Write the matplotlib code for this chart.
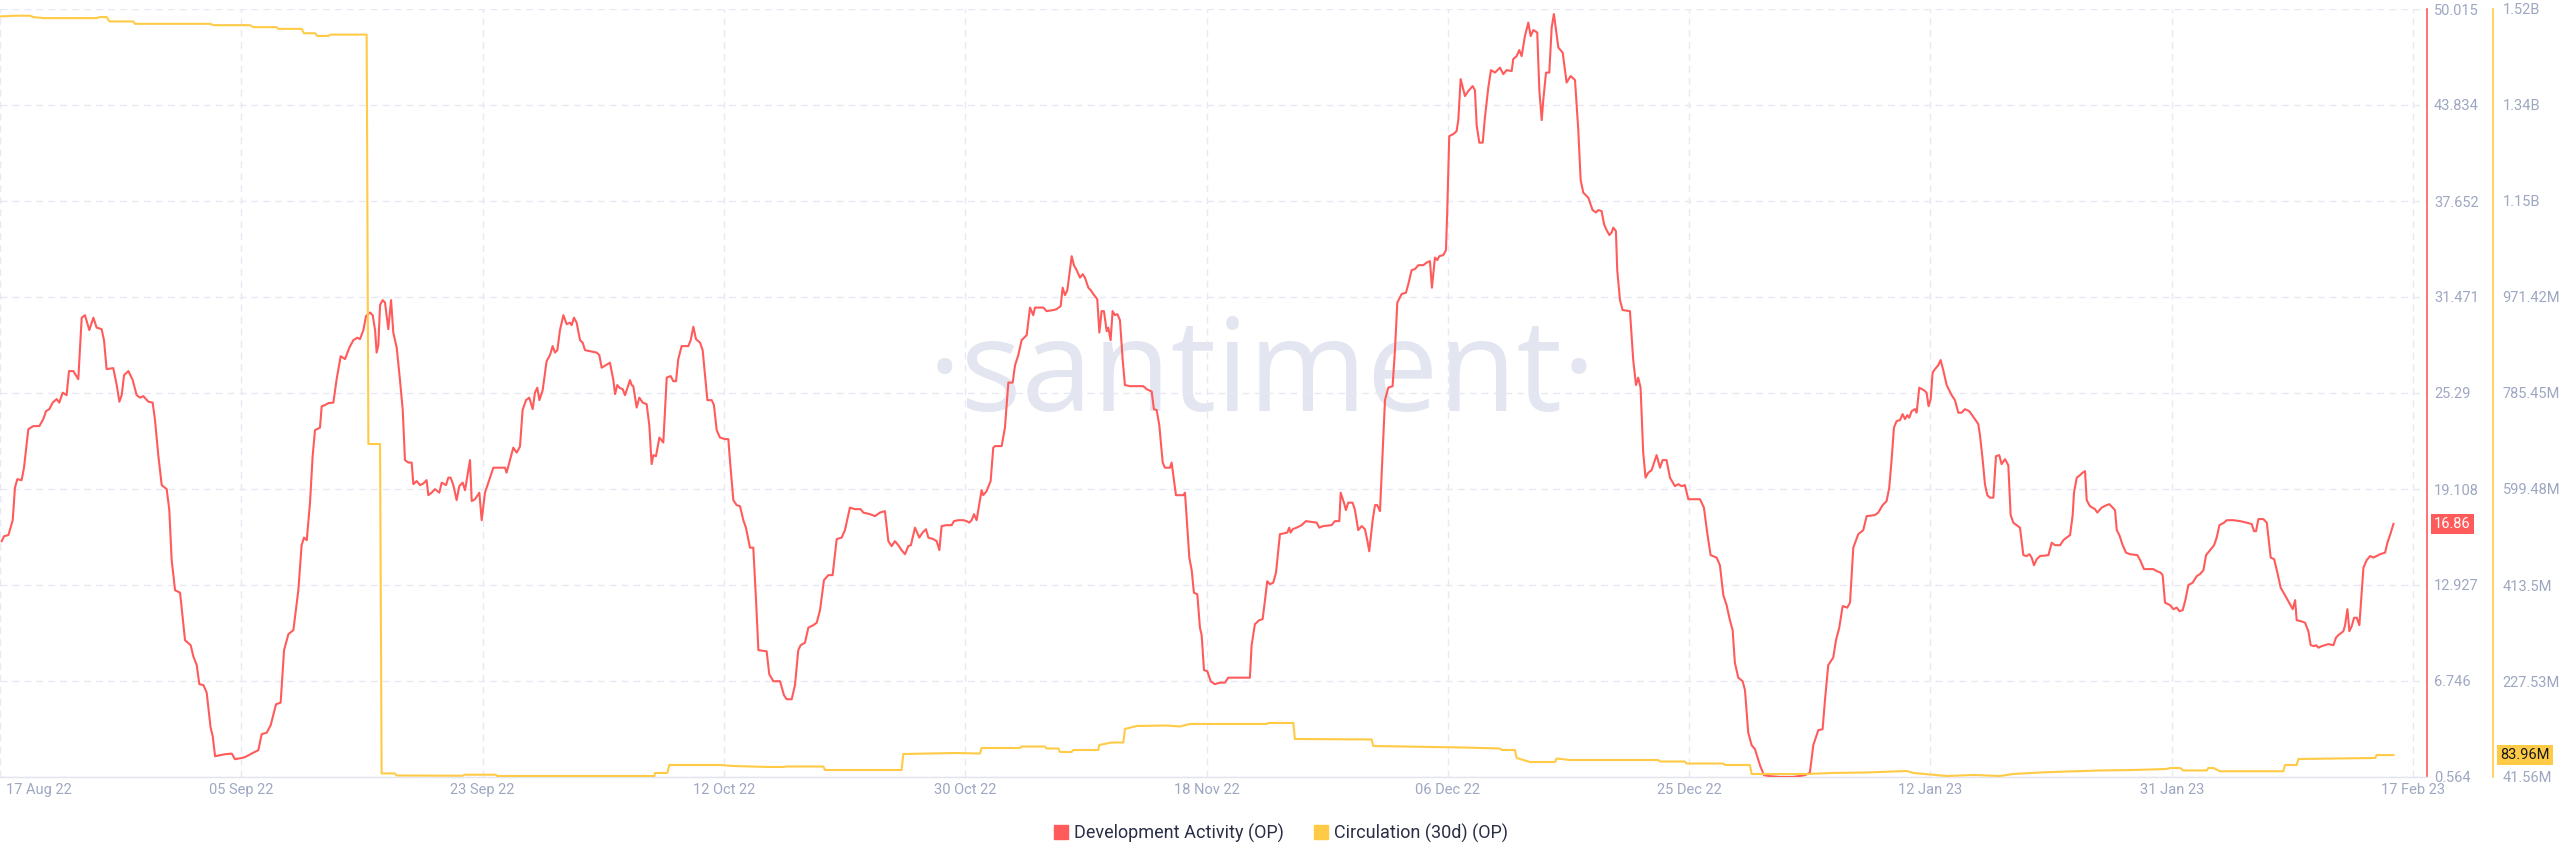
import matplotlib
matplotlib.use("Agg")
import matplotlib.pyplot as plt
from matplotlib.lines import Line2D
from matplotlib.transforms import blended_transform_factory, ScaledTranslation

# ---------------- data ----------------
# x = days since 17 Aug 22, value = Development Activity (OP)
dev_activity = [
(0.13,15.75),(0.31,16.07),(0.64,16.14),(0.97,17.10),(1.14,19.19),(1.32,19.74),(1.65,19.68),(1.83,20.48),(2.16,22.96),(2.54,23.16),
(3.00,23.16),(3.30,23.61),(3.51,24.12),(3.76,24.25),(4.02,24.67),(4.32,24.90),(4.52,24.67),(4.78,25.31),(5.08,25.15),(5.26,26.70),
(5.59,26.70),(5.97,26.18),(6.23,30.14),(6.48,30.30),(6.81,29.34),(7.12,30.14),(7.37,29.50),(7.75,29.40),(7.93,28.69),(8.13,26.83),
(8.64,26.89),(8.90,25.80),(9.10,24.73),(9.28,25.15),(9.46,26.44),(9.79,26.70),(10.12,26.12),(10.42,25.15),(10.68,24.99),(10.93,25.09),
(11.31,24.73),(11.64,24.67),(11.82,23.54),(12.07,21.29),(12.33,19.36),(12.71,19.10),(12.91,17.75),(13.09,14.53),(13.35,12.59),(13.73,12.43),
(14.11,9.37),(14.54,9.05),(14.74,8.34),(15.00,7.77),(15.20,6.54),(15.51,6.48),(15.76,6.00),(16.06,3.74),(16.22,3.19),(16.40,1.90),
(16.78,1.97),(17.16,2.03),(17.67,2.07),(17.92,1.71),(18.56,1.81),(18.81,1.90),(19.32,2.13),(19.70,2.29),(19.95,3.32),(20.34,3.42),
(20.64,3.90),(21.05,5.25),(21.40,5.35),(21.66,8.73),(21.99,9.76),(22.37,10.02),(22.75,12.59),(23.00,15.49),(23.18,15.98),(23.39,15.81),
(23.64,18.23),(23.84,21.22),(24.02,22.90),(24.40,23.06),(24.53,24.44),(24.78,24.51),(25.04,24.64),(25.42,24.67),(25.67,26.18),(25.98,27.66),
(26.31,27.47),(26.64,28.21),(26.94,28.69),(27.25,28.85),(27.45,28.76),(27.71,29.34),(27.91,30.24),(28.21,30.47),(28.42,30.30),(28.60,29.34),
(28.72,27.89),(28.85,28.37),(28.98,30.95),(29.18,31.27),(29.36,31.11),(29.61,29.40),(29.82,31.27),(29.99,29.18),(30.25,28.21),(30.50,26.12),
(30.71,24.19),(30.88,20.97),(31.14,20.81),(31.39,20.81),(31.52,19.42),(31.77,19.62),(32.03,19.36),
(32.28,19.46),(32.53,19.68),(32.66,18.71),(32.91,18.87),(33.17,19.10),(33.50,18.87),(33.68,19.52),(34.01,19.36),(34.19,19.84),(34.36,19.84),
(34.57,19.36),(34.82,18.39),(35.02,19.29),(35.28,19.52),(35.46,19.03),(35.84,20.97),(35.97,18.33),(36.22,18.45),(36.55,18.87),(36.73,17.10),
(36.98,18.87),(37.24,19.52),(37.62,20.48),(38.13,20.48),(38.51,20.48),(38.63,20.16),(38.89,20.97),(39.14,21.77),(39.40,21.45),(39.65,21.84),
(39.85,24.19),(40.11,24.83),(40.36,24.99),(40.62,24.25),(40.79,25.31),(40.97,25.63),(41.13,24.83),(41.38,25.47),(41.68,27.34),(41.94,27.73),
(42.14,28.31),(42.32,27.89),(42.50,28.05),(42.70,29.34),(42.96,30.30),(43.21,29.72),(43.46,29.82),(43.59,29.66),(43.77,30.14),(43.97,29.82),
(44.23,28.69),(44.43,28.53),(44.61,28.05),(44.99,27.98),(45.50,27.89),(45.70,27.73),(45.88,26.92),(46.51,27.24),(46.77,26.12),(46.90,25.22),
(47.07,25.80),(47.28,25.60),(47.48,25.54),(47.66,25.15),(48.04,26.12),(48.17,25.80),(48.29,25.73),(48.55,24.35),(48.75,24.99),(49.01,24.67),
(49.31,24.57),(49.51,23.22),(49.69,20.71),(49.82,21.29),(50.02,21.22),(50.28,22.42),(50.58,22.10),(50.84,26.28),(51.14,26.38),(51.34,26.05),
(51.55,26.05),(51.72,27.47),(51.98,28.31),(52.49,28.31),(52.67,28.69),(52.87,29.56),(53.07,28.76),(53.38,28.53),(53.58,28.05),(53.76,26.44),
(53.94,24.83),(54.27,24.83),(54.44,24.51),(54.65,22.90),(54.90,22.42),(55.28,22.32),(55.54,22.32),(55.66,20.97),(55.92,18.39),(56.17,18.07),
(56.43,18.00),(56.68,17.10),(56.88,16.62),(57.19,15.33),(57.44,15.33),(57.65,11.95),(57.83,8.73),(58.46,8.66),(58.66,7.18),(58.97,6.73),
(59.48,6.73),(59.78,5.83),(59.99,5.57),(60.37,5.57),(60.62,6.48),(60.87,8.73),(61.05,9.05),(61.38,9.21),(61.64,10.18),(62.02,10.34),
(62.28,10.50),(62.53,11.31),
(62.83,13.24),(63.16,13.56),(63.49,13.56),(63.80,15.88),(64.18,15.98),(64.43,16.46),(64.81,17.91),(65.19,17.81),(65.63,17.81),(65.83,17.59),
(66.34,17.49),(66.72,17.36),(67.10,17.59),(67.48,17.68),(67.74,15.75),(67.99,15.43),(68.24,15.75),(68.50,15.49),(68.75,15.17),(69.01,14.91),
(69.26,15.43),(69.46,15.49),(69.77,16.62),(70.10,15.98),(70.35,16.30),(70.61,16.52),(70.79,15.98),(71.17,15.88),(71.42,15.75),(71.63,15.17),
(71.80,16.72),(72.18,16.78),(72.57,16.78),(72.74,17.04),(73.07,17.10),(73.46,17.10),(73.71,17.04),(73.91,16.94),(74.09,17.10),(74.27,17.49),
(74.47,17.10),(74.85,19.03),(74.98,18.71),(75.23,18.97),(75.54,19.62),(75.74,21.77),(75.87,21.87),(76.38,21.87),(76.63,23.06),(76.89,25.96),
(77.22,25.96),(77.40,27.08),(77.65,27.73),(77.90,28.69),(78.29,29.02),(78.54,30.79),(78.79,30.30),(78.92,30.79),(79.56,30.79),(79.81,30.56),
(80.32,30.63),(80.57,30.69),(80.88,30.88),(81.03,32.07),(81.21,31.59),(81.39,31.91),(81.72,34.10),(81.89,33.52),(82.10,33.20),(82.35,32.72),
(82.56,32.94),(82.73,32.72),(82.99,32.07),(83.17,31.91),(83.37,31.66),(83.67,31.33),(83.83,29.18),(84.00,30.56),(84.18,30.56),(84.39,29.27),
(84.51,29.50),(84.69,28.69),(84.84,30.56),(85.02,30.30),(85.20,30.37),(85.40,29.98),(85.61,27.41),(85.78,25.80),(86.16,25.73),(87.18,25.73),
(87.44,25.54),(87.82,25.38),(87.99,24.25),(88.20,24.19),(88.40,23.22),(88.66,20.81),(88.83,20.48),(89.22,20.48),(89.34,20.81),(89.67,18.71),
(90.23,18.71),(90.36,18.87),(90.69,14.69),(90.87,13.88),(91.04,12.43),(91.30,12.33),(91.50,10.18),(91.63,9.70),(91.81,7.44),(92.06,7.38),
(92.32,6.73),(92.63,6.54),(93.03,6.64),
(93.41,6.64),(93.66,6.96),(94.55,6.96),(95.31,6.96),(95.44,9.05),(95.69,10.40),(96.02,10.66),(96.28,10.73),(96.46,11.95),(96.63,13.17),
(96.84,12.98),(97.09,13.08),(97.30,13.72),(97.60,16.20),(98.16,16.30),(98.31,16.62),(98.41,16.30),(98.57,16.52),(98.87,16.62),(99.25,16.78),
(99.58,17.04),(100.40,16.94),(100.60,16.62),(100.91,16.72),(101.54,16.78),(101.79,17.04),(102.13,17.04),(102.23,18.87),(102.48,18.23),(102.63,17.75),
(102.81,18.23),(103.14,18.23),(103.32,17.75),(103.57,16.46),(103.83,16.72),(104.08,16.52),(104.26,15.81),(104.41,15.10),(104.67,17.10),(104.85,18.07),
(105.02,18.07),(105.23,17.68),(105.43,21.45),(105.61,24.83),(105.86,25.63),(106.19,25.73),(106.37,28.05),(106.55,31.11),(106.88,31.66),(107.21,31.75),
(107.39,32.30),(107.64,33.20),(107.90,33.27),(108.15,33.52),(108.53,33.52),(108.79,33.69),(109.04,33.78),(109.19,32.07),(109.42,34.01),(109.60,33.85),
(109.75,34.10),(110.06,34.17),(110.26,34.49),(110.36,37.07),(110.51,41.83),(110.82,41.96),(111.07,42.15),(111.20,42.86),(111.38,45.50),(111.71,44.41),
(111.96,44.73),(112.29,45.05),(112.47,44.79),(112.60,42.54),(112.80,41.41),(113.06,41.41),(113.23,43.02),(113.49,44.96),(113.69,46.08),(114.00,45.92),
(114.38,46.24),(114.63,45.82),(114.89,46.08),(115.27,46.02),(115.39,46.79),(115.65,46.98),(115.85,47.37),(116.03,46.98),(116.28,48.27),(116.54,49.14),
(116.72,48.27),(116.92,48.66),(117.22,48.50),(117.38,44.79),(117.56,42.86),(117.68,44.15),(117.89,45.92),(118.14,45.92),(118.32,48.82),(118.49,49.69),
(118.83,47.53),(119.16,47.21),(119.46,45.28),(119.77,45.70),(120.10,45.44),(120.35,42.22),(120.53,39.00),(120.73,38.19),(121.11,37.87),(121.44,37.07),
(121.70,36.91),(121.88,37.07),(122.13,37.00),(122.31,36.17),(122.51,35.78),(122.72,35.46),(122.89,35.62),(123.02,35.94),(123.22,35.71),(123.32,33.20),
(123.53,31.27),
(123.73,30.63),(124.29,30.56),(124.54,27.41),(124.75,25.80),(124.92,26.28),(125.10,25.63),(125.30,21.45),(125.48,19.84),(125.69,20.16),(125.94,20.32),
(126.32,21.29),(126.58,20.48),(126.78,20.97),(127.08,20.97),(127.34,19.84),(127.72,19.29),(127.97,19.42),(128.23,19.29),(128.48,19.36),(128.74,18.45),
(129.63,18.45),(129.93,17.91),(130.18,16.30),(130.44,14.85),(130.90,14.69),(131.15,14.20),(131.41,12.27),(131.66,11.63),(131.91,10.66),(132.12,10.02),
(132.29,7.93),(132.55,6.96),(132.88,6.73),(133.06,6.16),(133.31,3.42),(133.57,2.61),(133.82,2.36),(134.20,1.33),(134.51,0.68),(134.96,0.62),
(135.73,0.57),(136.74,0.57),(137.63,0.68),(138.01,0.84),(138.27,2.61),(138.65,3.58),(138.98,3.64),(139.16,5.51),(139.41,7.77),(139.79,8.25),
(140.00,9.37),(140.25,10.18),(140.51,11.57),(140.86,11.47),(141.07,11.79),(141.32,15.33),(141.70,16.20),(142.08,16.46),(142.34,17.36),(142.97,17.43),
(143.22,17.59),(143.56,18.07),(143.86,18.33),(144.06,19.19),(144.24,20.97),(144.42,23.06),(144.62,23.48),(144.88,23.54),(145.08,23.93),(145.26,23.61),
(145.44,23.86),(145.59,23.70),(145.77,24.12),(146.02,24.25),(146.15,24.02),(146.35,25.63),(146.71,25.47),(146.91,25.31),(147.06,24.44),(147.22,24.90),
(147.37,26.60),(147.55,26.83),(147.80,27.08),(147.98,27.41),(148.18,26.76),(148.44,25.80),(148.82,25.15),(149.07,24.83),(149.33,24.02),(149.58,24.02),
(149.83,24.25),(150.16,24.12),(150.52,23.70),(150.85,23.29),(150.98,22.58),(151.18,21.03),(151.36,19.42),(151.54,18.71),(151.74,18.55),(152.00,18.55),
(152.20,21.22),(152.45,21.29),(152.63,20.71),(152.89,21.03),(153.14,20.64),(153.32,17.43),(153.52,16.94),(153.78,16.78),(154.03,16.62),
(154.29,14.85),(154.54,14.79),(154.75,14.91),(154.92,14.69),(155.10,14.20),(155.31,14.59),(155.56,14.79),(156.20,14.85),(156.45,15.65),(156.70,15.49),
(157.09,15.49),(157.34,15.81),(157.59,15.98),(157.85,16.14),(158.05,17.43),(158.15,18.87),(158.36,19.84),(158.61,20.00),(158.81,20.16),(158.99,20.26),
(159.12,18.39),(159.37,18.00),(159.75,17.81),(159.93,17.59),(160.26,17.91),(160.64,18.07),(160.85,18.13),(161.28,17.75),(161.41,16.46),(161.61,16.14),
(161.86,15.49),(162.12,15.01),(162.42,14.91),(162.98,14.85),(163.19,14.53),(163.49,13.95),(163.82,13.95),(164.20,13.95),(164.46,13.82),(164.76,13.72),
(164.91,13.56),(165.09,11.79),(165.47,11.63),(165.73,11.37),(165.98,11.47),(166.19,11.24),(166.44,11.31),(166.64,11.95),(166.87,12.92),(167.20,13.08),
(167.51,13.50),(167.76,13.63),(168.02,13.88),(168.22,14.85),(168.52,15.17),(168.83,15.49),(169.03,15.98),(169.24,16.78),(169.59,16.94),(169.80,17.10),
(170.30,17.10),(170.81,17.04),(171.32,16.94),(171.70,16.85),(171.88,16.39),(172.03,16.39),(172.21,17.17),(172.59,17.17),(172.85,16.94),(173.15,14.69),
(173.41,14.59),(173.66,13.72),(173.91,12.75),(174.24,12.27),(174.62,11.69),(174.83,11.37),(175.01,11.95),(175.13,10.66),(175.44,10.60),(175.77,10.50),
(176.02,9.95),(176.20,9.05),(176.46,8.99),(176.61,9.05),(176.79,8.89),(177.04,8.99),(177.55,9.12),(177.93,9.05),(178.13,9.54),(178.31,9.70),
(178.69,9.95),(178.82,10.34),(179.00,11.37),(179.15,9.95),(179.33,10.28),(179.51,10.82),(179.71,10.82),(179.91,10.34),(180.22,14.04),(180.47,14.53),
(180.73,14.79),(180.98,14.69),(181.49,14.91),(181.87,15.01),(182.05,15.65),(182.25,16.14),(182.51,16.86),
]

# x = days since 17 Aug 22, value = Circulation (30d) in millions OP
circulation = [
(0.00,1515.0),(1.27,1516.3),(2.29,1516.3),(2.54,1513.7),(3.30,1511.7),(7.37,1511.7),(7.63,1513.7),(8.13,1513.7),(8.34,1505.2),(10.17,1505.2),
(10.29,1500.6),(16.01,1500.6),(16.27,1498.0),(19.06,1498.0),(19.32,1494.1),(21.10,1494.1),(21.22,1490.8),(23.00,1490.8),(23.18,1482.4),(24.02,1482.4),
(24.20,1477.1),(25.04,1477.1),(25.21,1479.7),(27.96,1479.7),(28.09,686.6),(28.98,686.6),(29.10,48.5),(30.10,48.5),(30.25,44.5),(35.30,44.0),
(35.40,46.0),(37.80,46.0),(37.90,43.5),(49.90,43.5),(49.95,49.4),(50.89,49.4),(51.04,64.8),(54.90,64.8),(55.92,62.9),(58.46,61.0),
(59.73,61.0),(60.00,61.9),(62.78,61.9),(62.91,55.1),(68.75,55.1),(68.88,86.1),(72.95,88.1),(74.73,87.0),(74.85,97.7),(77.78,97.7),
(77.90,100.6),(79.68,100.6),(79.81,96.8),(80.70,96.8),(80.83,90.0),(81.72,90.0),(81.84,93.9),(83.75,93.9),(83.83,103.6),(84.77,108.4),
(85.66,108.4),(85.78,134.6),(86.67,140.4),(88.96,141.3),(89.98,139.4),(90.74,144.3),(96.58,144.3),(96.71,146.2),(98.62,146.2),(98.74,115.2),
(104.59,114.3),(104.72,101.6),(111.58,98.7),(114.38,96.8),(114.50,93.9),(115.52,93.9),(115.65,78.4),(116.67,70.6),(118.57,70.6),(118.70,77.4),
(119.72,74.5),(126.45,74.5),(126.58,71.6),(128.48,71.6),(128.61,67.7),(131.41,67.7),(131.53,64.8),(133.44,64.8),(133.57,47.4),(137.76,47.4),
(139.79,49.4),(142.34,50.3),(145.39,53.2),(145.90,49.4),(148.44,43.5),(150.49,45.5),(152.51,43.5),(153.53,47.4),(155.56,50.3),(157.59,52.2),
(160.14,54.2),(162.68,55.1),(165.22,57.1),(165.47,59.0),(166.24,59.0),(166.49,54.2),(168.27,54.2),(168.39,59.0),(168.78,59.0),(169.29,52.7),
(174.11,52.7),(174.24,64.8),(175.13,64.8),(175.26,76.4),(178.13,77.4),(181.11,78.4),(181.24,84.2),(182.51,83.96),
]

x_tick_labels = ["17 Aug 22", "05 Sep 22", "23 Sep 22", "12 Oct 22", "30 Oct 22", "18 Nov 22",
                 "06 Dec 22", "25 Dec 22", "12 Jan 23", "31 Jan 23", "17 Feb 23"]
dev_ticks = [0.564, 6.746, 12.927, 19.108, 25.29, 31.471, 37.652, 43.834, 50.015]
dev_tick_labels = ["0.564", "6.746", "12.927", "19.108", "25.29", "31.471", "37.652", "43.834", "50.015"]
circ_ticks = [41.56, 227.53, 413.5, 599.48, 785.45, 971.42, 1157.39, 1343.36, 1529.33]
circ_tick_labels = ["41.56M", "227.53M", "413.5M", "599.48M", "785.45M", "971.42M", "1.15B", "1.34B", "1.52B"]
dev_last_label = "16.86"
circ_last_label = "83.96M"
series_names = ["Development Activity (OP)", "Circulation (30d) (OP)"]

# ---------------- style ----------------
RED = "#ff5b5b"
YELLOW = "#ffcb47"
TICK_COL = "#9ea7c2"
GRID_COL = "#e8eaf3"
plt.rcParams["font.family"] = ["Roboto", "DejaVu Sans"]

W, H = 2560, 867
fig = plt.figure(figsize=(W / 100, H / 100), dpi=100)
fig.patch.set_facecolor("white")
left_px, right_px, top_px, bottom_px = 0, 2427, 9, 777
ax = fig.add_axes([left_px / W, 1 - bottom_px / H, (right_px - left_px) / W, (bottom_px - top_px) / H])
ax2 = ax.twinx()

dev_x = [p[0] for p in dev_activity]
dev_y = [p[1] for p in dev_activity]
circ_x = [p[0] for p in circulation]
circ_y = [p[1] for p in circulation]

ax.plot(dev_x, dev_y, color=RED, lw=1.5, zorder=3, solid_joinstyle="round")
ax2.plot(circ_x, circ_y, color=YELLOW, lw=1.5, zorder=3, solid_joinstyle="round")

day_per_px = 18.4 / 241.3
ax.set_xlim(0, right_px * day_per_px)
ax.set_ylim(dev_ticks[0], dev_ticks[-1])
ax2.set_ylim(circ_ticks[0], circ_ticks[-1])

xt = [18.4 * i for i in range(len(x_tick_labels))]
ax.set_xticks(xt)
ax.set_xticklabels(x_tick_labels)
ax.tick_params(axis="x", length=0, pad=4, labelsize=10.5, colors=TICK_COL)
xl = ax.get_xticklabels()
xl[0].set_ha("left")
xl[0].set_transform(xl[0].get_transform() + ScaledTranslation(6 / 100, 0, fig.dpi_scale_trans))

ax.yaxis.tick_right()
ax.set_yticks(dev_ticks)
ax.set_yticklabels(dev_tick_labels)
ax.tick_params(axis="y", length=0, pad=5, labelsize=10.5, colors=TICK_COL)
ax2.set_yticks(circ_ticks)
ax2.set_yticklabels(circ_tick_labels)
ax2.tick_params(axis="y", length=0, pad=7, labelsize=10.5, colors=TICK_COL)

ax.grid(True, color=GRID_COL, lw=1.0, linestyle=(0, (5, 3.6)), zorder=0)
ax.set_axisbelow(True)

for s in ["left", "top"]:
    ax.spines[s].set_visible(False)
    ax2.spines[s].set_visible(False)
ax.spines["bottom"].set_color("#e3e5ee")
ax.spines["bottom"].set_linewidth(1.0)
ax2.spines["bottom"].set_visible(False)
ax.spines["right"].set_color(RED)
ax.spines["right"].set_linewidth(1.2)
ax2.spines["right"].set_color(YELLOW)
ax2.spines["right"].set_linewidth(1.2)
ax2.spines["right"].set_position(("axes", 2493 / 2427))

# watermark
ax.text(1262 / 2427, (777 - 378) / 768, "\u00b7santiment\u00b7", transform=ax.transAxes,
        family=["Open Sans", "DejaVu Sans"], fontsize=92, color="#e3e6f0",
        ha="center", va="center", zorder=0)

# last value badges
tr1 = blended_transform_factory(ax.transAxes, ax.transData)
ax.text(2434 / 2427, dev_y[-1], dev_last_label, transform=tr1, ha="left", va="center",
        fontsize=10.5, color="white", zorder=10, clip_on=False,
        bbox=dict(boxstyle="square,pad=0.22", fc=RED, ec="none"))
tr2 = blended_transform_factory(ax2.transAxes, ax2.transData)
ax2.text(2500 / 2427, circ_y[-1], circ_last_label, transform=tr2, ha="left", va="center",
         fontsize=10.5, color="#1a1a1a", zorder=10, clip_on=False,
         bbox=dict(boxstyle="square,pad=0.22", fc=YELLOW, ec="none"))

# legend
handles = [Line2D([], [], marker="s", linestyle="none", color=RED, markersize=10),
           Line2D([], [], marker="s", linestyle="none", color=YELLOW, markersize=10)]
fig.legend(handles, series_names, loc="center", bbox_to_anchor=(0.5, 1 - 833 / H), ncol=2,
           frameon=False, fontsize=13, handletextpad=0.2, columnspacing=1.6, handlelength=1.0,
           labelcolor="#2b2f45")

fig.savefig("out.png", dpi=100, facecolor="white")
